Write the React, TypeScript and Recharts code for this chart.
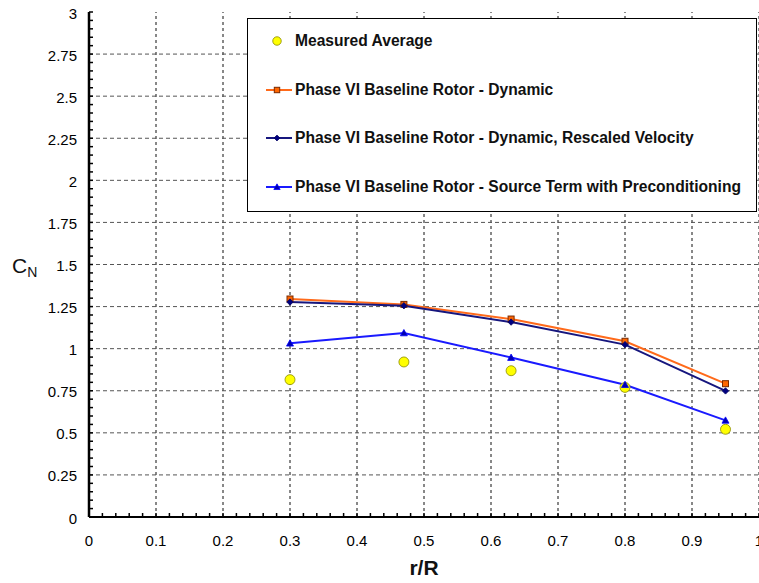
import * as React from 'react';
import { ComposedChart, Line, XAxis, YAxis, ReferenceLine, Legend } from 'recharts';

// r/R stations and normal force coefficient values
const radius = [0.3, 0.47, 0.63, 0.8, 0.95];
const measuredAverage = [0.816, 0.921, 0.869, 0.77, 0.521];
const baselineDynamic = [1.295, 1.263, 1.176, 1.044, 0.792];
const dynamicRescaled = [1.277, 1.255, 1.158, 1.024, 0.749];
const sourceTerm = [1.032, 1.093, 0.947, 0.786, 0.574];

const xMajorTicks = [0, 0.1, 0.2, 0.3, 0.4, 0.5, 0.6, 0.7, 0.8, 0.9, 1];
const xTickLabels = ['0', '0.1', '0.2', '0.3', '0.4', '0.5', '0.6', '0.7', '0.8', '0.9', '1'];
const yMajorTicks = [0, 0.25, 0.5, 0.75, 1, 1.25, 1.5, 1.75, 2, 2.25, 2.5, 2.75, 3];
const yTickLabels = ['0', '0.25', '0.5', '0.75', '1', '1.25', '1.5', '1.75', '2', '2.25', '2.5', '2.75', '3'];

// minor tick marks: every 0.02 on x, every 0.05 on y
const xMinorTicks = Array.from({ length: 51 }, (_, i) => Math.round(i * 2) / 100);
const yMinorTicks = Array.from({ length: 61 }, (_, i) => Math.round(i * 5) / 100);

const FONT = '"Liberation Sans", Arial, sans-serif';

const data = radius.map((r, i) => ({
	r,
	measured: measuredAverage[i],
	dynamic: baselineDynamic[i],
	rescaled: dynamicRescaled[i],
	source: sourceTerm[i]
}));

const majorIndex = (ticks: number[], v: number) => ticks.findIndex(t => Math.abs(t - v) < 1e-6);

const Marker = ({ shape, cx, cy, scale = 1 }: any) => {
	if (shape === 'circle') {
		return <circle cx={cx} cy={cy} r={5 * scale} fill="#ffff00" stroke="#8a8a00" strokeWidth={0.8} />;
	}
	if (shape === 'square') {
		const s = 3 * scale;
		return (
			<rect x={cx - s} y={cy - s} width={2 * s} height={2 * s} fill="#ff6600" stroke="#7a2a00" strokeWidth={1} />
		);
	}
	if (shape === 'diamond') {
		const s = 3.2 * scale;
		return (
			<polygon
				points={`${cx},${cy - s} ${cx + s},${cy} ${cx},${cy + s} ${cx - s},${cy}`}
				fill="#000080"
				stroke="#000060"
				strokeWidth={0.8}
			/>
		);
	}
	const s = 3.5 * scale;
	return (
		<polygon
			points={`${cx},${cy - s} ${cx + s},${cy + s * 0.8} ${cx - s},${cy + s * 0.8}`}
			fill="#0000b0"
			stroke="#0000ff"
			strokeWidth={0.8}
		/>
	);
};

const series = [
	{ key: 'measured', name: 'Measured Average', color: 'none', shape: 'circle' },
	{ key: 'dynamic', name: 'Phase VI Baseline Rotor - Dynamic', color: '#ff6a1a', shape: 'square' },
	{ key: 'rescaled', name: 'Phase VI Baseline Rotor - Dynamic, Rescaled Velocity', color: '#16167e', shape: 'diamond' },
	{ key: 'source', name: 'Phase VI Baseline Rotor - Source Term with Preconditioning', color: '#1a1aff', shape: 'triangle' }
];

const dotFor = (shape: string) => (props: any) => (
	<g key={`${shape}-${props.index}`}>
		<Marker shape={shape} cx={props.cx} cy={props.cy} />
	</g>
);

const XTick = (props: any) => {
	const { x, y, payload } = props;
	const idx = majorIndex(xMajorTicks, payload.value);
	return (
		<g>
			<line x1={x} y1={y} x2={x} y2={y - 4} stroke="#000" strokeWidth={1.5} />
			{idx >= 0 && (
				<text x={x} y={y + 23} textAnchor="middle" dominantBaseline="central" fontSize={15} fill="#000" fontFamily={FONT}>
					{xTickLabels[idx]}
				</text>
			)}
		</g>
	);
};

const YTick = (props: any) => {
	const { x, y, payload } = props;
	const idx = majorIndex(yMajorTicks, payload.value);
	return (
		<g>
			<line x1={x} y1={y} x2={x + 4} y2={y} stroke="#000" strokeWidth={1.5} />
			{idx >= 0 && (
				<text x={x - 12} y={y + 1} textAnchor="end" dominantBaseline="central" fontSize={15} fill="#000" fontFamily={FONT}>
					{yTickLabels[idx]}
				</text>
			)}
		</g>
	);
};

const TopTick = (props: any) => {
	const { x, y } = props;
	return <line x1={x} y1={y} x2={x} y2={y + 4} stroke="#000" strokeWidth={1.2} />;
};

const renderLegend = (props: any) => {
	const { payload } = props;
	return (
		<div
			style={{
				boxSizing: 'border-box',
				width: 510,
				height: 194,
				border: '1px solid #000',
				background: '#fff',
				fontFamily: FONT,
				paddingTop: 0
			}}
		>
			{payload.map((entry: any, i: number) => {
				const s = series.find(it => it.name === entry.value);
				if (!s) return null;
				return (
					<div
						key={s.key}
						style={{
							height: 48.6,
							marginTop: i === 0 ? -2 : 0,
							display: 'flex',
							alignItems: 'center',
							paddingLeft: 18
						}}
					>
						<svg width={26} height={14} style={{ display: 'block' }}>
							{s.color !== 'none' && <line x1={0} y1={7} x2={26} y2={7} stroke={s.color} strokeWidth={2} />}
							<Marker shape={s.shape} cx={11} cy={7} scale={s.shape === 'circle' ? 0.85 : 0.9} />
						</svg>
						<span style={{ marginLeft: 3, fontSize: 15.6, fontWeight: 'bold', color: '#111', whiteSpace: 'nowrap' }}>
							{s.name}
						</span>
					</div>
				);
			})}
		</div>
	);
};

export default function App() {
	return (
		<div style={{ position: 'absolute', left: 0, top: 0, width: 759, height: 583, background: '#fff' }}>
			<ComposedChart width={759} height={583} data={data} margin={{ top: 12, right: 0, bottom: 0, left: 0 }}>
				<XAxis
					xAxisId="main"
					dataKey="r"
					type="number"
					domain={[0, 1]}
					ticks={xMinorTicks}
					interval={0}
					tickSize={0}
					tickMargin={0}
					height={66}
					axisLine={{ stroke: '#000', strokeWidth: 2 }}
					tick={<XTick />}
					label={{
						content: (p: any) => {
							const vb = p.viewBox;
							return (
								<text x={vb.x + vb.width / 2} y={575} textAnchor="middle" fontSize={21} fontWeight="bold" fill="#111" fontFamily={FONT}>
									r/R
								</text>
							);
						}
					}}
				/>
				<XAxis
					xAxisId="top"
					orientation="top"
					type="number"
					domain={[0, 1]}
					allowDataOverflow
					ticks={xMajorTicks}
					interval={0}
					tickSize={0}
					tickMargin={0}
					height={0}
					axisLine={{ stroke: '#000', strokeWidth: 1.5 }}
					tick={<TopTick />}
				/>
				<YAxis
					type="number"
					domain={[0, 3]}
					ticks={yMinorTicks}
					interval={0}
					tickSize={0}
					tickMargin={0}
					width={89}
					axisLine={{ stroke: '#000', strokeWidth: 2.5 }}
					tick={<YTick />}
					label={{
						content: (p: any) => {
							const vb = p.viewBox;
							const cy = vb.y + vb.height / 2;
							return (
								<text x={12} y={cy + 8} fontSize={21} fill="#111" fontFamily={FONT}>
									C
									<tspan fontSize={14} dy={4}>
										N
									</tspan>
								</text>
							);
						}
					}}
				/>
				{xMajorTicks.slice(1).map(v => (
					<ReferenceLine key={`gx-${v}`} xAxisId="main" x={v} stroke="#111" strokeWidth={1} strokeDasharray="3 3" />
				))}
				{yMajorTicks.slice(1, -1).map(v => (
					<ReferenceLine key={`gy-${v}`} xAxisId="main" y={v} stroke="#555" strokeWidth={1} strokeDasharray="4 3" />
				))}
				{series.map(s => (
					<Line
						key={s.key}
						xAxisId="main"
						dataKey={s.key}
						name={s.name}
						type="linear"
						stroke={s.color}
						strokeWidth={2}
						dot={dotFor(s.shape)}
						activeDot={false}
						isAnimationActive={false}
					/>
				))}
				<Legend
					layout="vertical"
					align="center"
					verticalAlign="middle"
					content={renderLegend}
					wrapperStyle={{ left: 247, top: 18, width: 510, height: 194 }}
				/>
			</ComposedChart>
		</div>
	);
}
